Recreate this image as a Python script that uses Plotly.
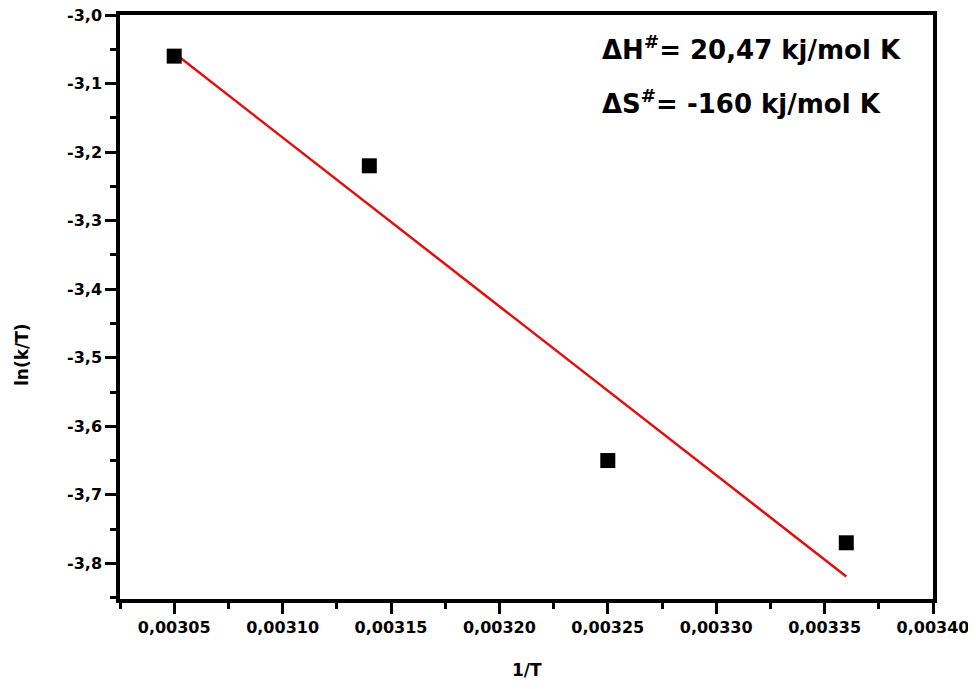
import numpy as np
import plotly.graph_objects as go

inv_T = [0.00305, 0.00314, 0.00325, 0.00336]
ln_kT = [-3.06, -3.22, -3.65, -3.77]
x_tick_vals = [0.00305, 0.00310, 0.00315, 0.00320, 0.00325, 0.00330, 0.00335, 0.00340]
x_tick_text = ["0,00305", "0,00310", "0,00315", "0,00320", "0,00325", "0,00330", "0,00335", "0,00340"]
y_tick_vals = [-3.0, -3.1, -3.2, -3.3, -3.4, -3.5, -3.6, -3.7, -3.8]
y_tick_text = ["-3,0", "-3,1", "-3,2", "-3,3", "-3,4", "-3,5", "-3,6", "-3,7", "-3,8"]
label_dH = "ΔH<sup>#</sup>= 20,47 kj/mol K"
label_dS = "ΔS<sup>#</sup>= -160 kj/mol K"
x_title = "1/T"
y_title = "ln(k/T)"

slope, intercept = np.polyfit(inv_T, ln_kT, 1)
fit_x = [min(inv_T), max(inv_T)]
fit_y = [slope * v + intercept for v in fit_x]

FONT = "Comic Sans MS, DejaVu Sans, sans-serif"
OFF = 8  # page body margin
W, H = 976 - OFF, 689 - OFF
ml, mr, mt, mb = 120 - OFF, W - (933 - OFF), 15 - OFF, H - (599 - OFF)
pw, ph = W - ml - mr, H - mt - mb


def px(xp):
    return (xp - OFF - ml) / pw


def py(yp):
    return 1 - (yp - OFF - mt) / ph


fig = go.Figure()
fig.add_trace(go.Scatter(x=fit_x, y=fit_y, mode="lines",
                         line=dict(color="#e01010", width=2.5), showlegend=False))
fig.add_trace(go.Scatter(x=inv_T, y=ln_kT, mode="markers",
                         marker=dict(symbol="square", size=15, color="black"),
                         showlegend=False))

axis_common = dict(showline=True, linecolor="black", linewidth=3.5, mirror=True,
                   showgrid=False, zeroline=False, ticks="outside", ticklen=11,
                   tickwidth=3, tickcolor="black", automargin=False,
                   ticklabeloverflow="allow",
                   tickfont=dict(family=FONT, size=16, color="black", weight="bold"))

fig.update_xaxes(range=[0.003025, 0.0034], tickvals=x_tick_vals, ticktext=x_tick_text,
                 minor=dict(ticks="outside", ticklen=6, tickwidth=3, tickcolor="black",
                            dtick=0.000025, tick0=0.003025, showgrid=False),
                 **axis_common)
fig.update_yaxes(range=[-3.852, -3.0], tickvals=y_tick_vals, ticktext=y_tick_text,
                 minor=dict(ticks="outside", ticklen=6, tickwidth=3, tickcolor="black",
                            dtick=0.05, tick0=-3.0, showgrid=False),
                 **axis_common)

for txt, ypix in [(label_dH, 48), (label_dS, 102)]:
    fig.add_annotation(x=px(600), y=py(ypix), xref="paper", yref="paper",
                       xanchor="left", yanchor="middle", text=txt, showarrow=False,
                       font=dict(family=FONT, size=26, color="black", weight="bold"))

fig.add_annotation(x=px(527), y=py(670), xref="paper", yref="paper",
                   xanchor="center", yanchor="middle", text=x_title, showarrow=False,
                   font=dict(family=FONT, size=17, color="black", weight="bold"))
fig.add_annotation(x=px(22), y=py(355), xref="paper", yref="paper",
                   xanchor="center", yanchor="middle", text=y_title, showarrow=False,
                   textangle=-90,
                   font=dict(family=FONT, size=17, color="black", weight="bold"))

fig.update_layout(width=W, height=H, margin=dict(l=ml, r=mr, t=mt, b=mb, autoexpand=False),
                  plot_bgcolor="white", paper_bgcolor="white")

fig.write_html("out.html")
